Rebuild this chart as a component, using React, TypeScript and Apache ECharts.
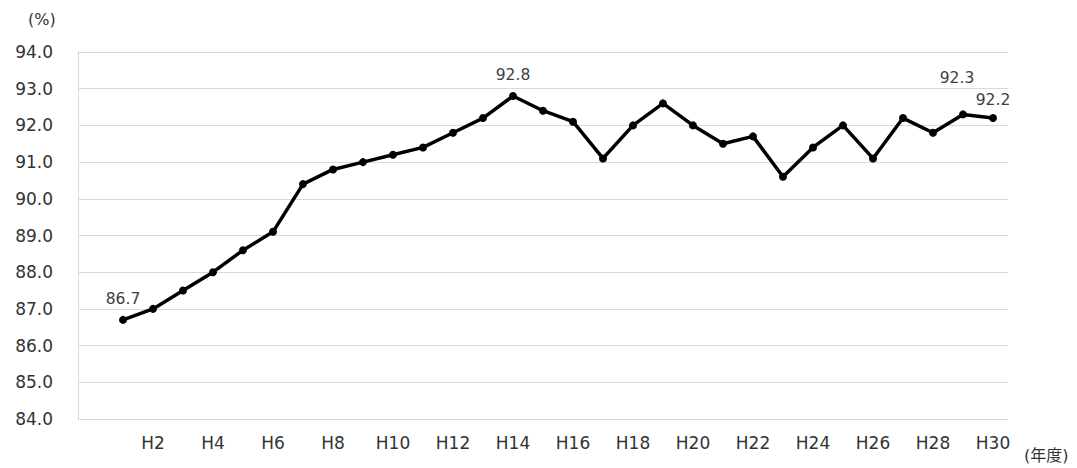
import React, { useEffect, useRef } from "react";
import * as echarts from "echarts";

const categories = ["", "H1", "H2", "H3", "H4", "H5", "H6", "H7", "H8", "H9", "H10", "H11", "H12", "H13", "H14", "H15", "H16", "H17", "H18", "H19", "H20", "H21", "H22", "H23", "H24", "H25", "H26", "H27", "H28", "H29", "H30"];
const values: (number | null)[] = [null, 86.7, 87.0, 87.5, 88.0, 88.6, 89.1, 90.4, 90.8, 91.0, 91.2, 91.4, 91.8, 92.2, 92.8, 92.4, 92.1, 91.1, 92.0, 92.6, 92.0, 91.5, 91.7, 90.6, 91.4, 92.0, 91.1, 92.2, 91.8, 92.3, 92.2];
const labeledCategories = ["H1", "H14", "H29", "H30"];
const yMin = 84;
const yMax = 94;
const yInterval = 1;

const FONT = "'DejaVu Sans', 'Noto Sans CJK JP', sans-serif";

export default function App() {
  const ref = useRef<HTMLDivElement>(null);
  useEffect(() => {
    if (!ref.current) return;
    const chart = echarts.init(ref.current, null, { renderer: "svg" });
    const data = values.map((v, i) => {
      const cat = categories[i];
      if (!labeledCategories.includes(cat)) return { value: v, label: { show: false } };
      const label: any = { show: true };
      if (cat === "H29") label.offset = [-6, -16];
      if (cat === "H30") label.offset = [0, 3];
      return { value: v, label };
    });
    chart.setOption({
      animation: false,
      backgroundColor: "#ffffff",
      grid: { left: 78, right: 69, top: 52, bottom: 49 },
      xAxis: {
        type: "category",
        data: categories,
        boundaryGap: true,
        axisLine: { show: false },
        axisTick: { show: false },
        axisLabel: {
          interval: (i: number) => i > 0 && i % 2 === 0,
          color: "#333333",
          fontSize: 17,
          fontFamily: FONT,
          margin: 15,
        },
      },
      yAxis: {
        type: "value",
        min: yMin,
        max: yMax,
        interval: yInterval,
        axisLine: { show: true, lineStyle: { color: "#d9d9d9", width: 1 } },
        axisTick: { show: false },
        splitLine: { lineStyle: { color: "#d9d9d9", width: 1 } },
        axisLabel: {
          formatter: (v: number) => v.toFixed(1),
          color: "#333333",
          fontSize: 17,
          fontFamily: FONT,
          margin: 25,
        },
      },
      series: [
        {
          type: "line",
          data,
          symbol: "circle",
          symbolSize: 8,
          lineStyle: { color: "#000000", width: 3.5 },
          itemStyle: { color: "#000000" },
          label: {
            position: "top",
            distance: 9,
            color: "#404040",
            fontSize: 15.5,
            fontFamily: FONT,
            formatter: (p: any) => Number(p.value).toFixed(1),
          },
        },
      ],
      graphic: [
        {
          type: "text",
          left: 28,
          top: 11,
          style: { text: "(%)", fill: "#333333", fontSize: 16, fontFamily: FONT },
        },
        {
          type: "text",
          left: 1024,
          top: 447,
          style: { text: "(年度)", fill: "#333333", fontSize: 16, fontFamily: FONT },
        },
      ],
    });
    return () => chart.dispose();
  }, []);
  return (
    <div
      ref={ref}
      style={{ position: "absolute", left: 0, top: 0, width: 1077, height: 468 }}
    />
  );
}
